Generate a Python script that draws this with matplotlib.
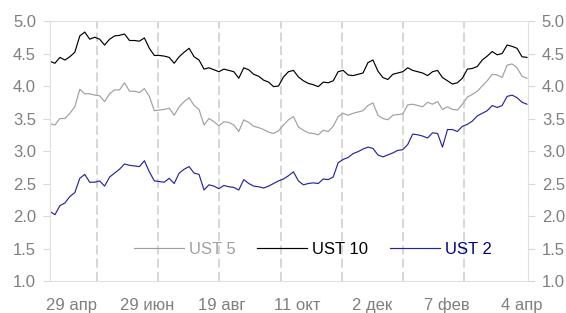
import numpy as np
import matplotlib.pyplot as plt
from matplotlib.ticker import FormatStrFormatter

# Доходности UST (примерно раз в 5 пикселей)
ust10 = [4.38, 4.35, 4.44, 4.40, 4.45, 4.52, 4.77, 4.83, 4.72, 4.75,
         4.72, 4.63, 4.72, 4.77, 4.78, 4.80, 4.70, 4.70, 4.69, 4.74,
         4.58, 4.47, 4.47, 4.46, 4.44, 4.35, 4.45, 4.52, 4.58, 4.45,
         4.40, 4.26, 4.28, 4.25, 4.22, 4.26, 4.24, 4.22, 4.12, 4.28,
         4.25, 4.18, 4.15, 4.09, 4.06, 3.99, 4.00, 4.14, 4.22, 4.24,
         4.14, 4.08, 4.04, 4.02, 3.99, 4.06, 4.05, 4.08, 4.22, 4.24,
         4.17, 4.16, 4.18, 4.20, 4.36, 4.40, 4.23, 4.13, 4.10, 4.18,
         4.20, 4.22, 4.28, 4.24, 4.22, 4.20, 4.16, 4.22, 4.24, 4.13,
         4.08, 4.03, 4.05, 4.12, 4.26, 4.27, 4.30, 4.40, 4.46, 4.53,
         4.48, 4.50, 4.63, 4.61, 4.58, 4.45, 4.44]

ust5 = [3.42, 3.40, 3.50, 3.50, 3.58, 3.68, 3.95, 3.88, 3.88, 3.86,
        3.85, 3.76, 3.88, 3.94, 3.94, 4.05, 3.92, 3.92, 3.90, 3.96,
        3.84, 3.62, 3.63, 3.64, 3.66, 3.55, 3.68, 3.76, 3.82, 3.70,
        3.64, 3.40, 3.50, 3.45, 3.39, 3.45, 3.44, 3.40, 3.30, 3.48,
        3.44, 3.38, 3.36, 3.33, 3.29, 3.27, 3.31, 3.40, 3.48, 3.53,
        3.37, 3.32, 3.28, 3.27, 3.25, 3.32, 3.30, 3.38, 3.53, 3.58,
        3.55, 3.58, 3.60, 3.62, 3.70, 3.74, 3.55, 3.50, 3.48, 3.55,
        3.56, 3.57, 3.71, 3.72, 3.70, 3.68, 3.75, 3.72, 3.76, 3.64,
        3.68, 3.64, 3.63, 3.72, 3.83, 3.87, 3.92, 4.00, 4.08, 4.18,
        4.17, 4.13, 4.32, 4.34, 4.28, 4.15, 4.12]

ust2 = [2.07, 2.02, 2.16, 2.20, 2.30, 2.36, 2.58, 2.64, 2.52, 2.52,
        2.54, 2.46, 2.60, 2.66, 2.72, 2.80, 2.78, 2.77, 2.76, 2.85,
        2.68, 2.54, 2.53, 2.52, 2.58, 2.50, 2.66, 2.72, 2.76, 2.66,
        2.64, 2.40, 2.48, 2.46, 2.42, 2.47, 2.45, 2.44, 2.40, 2.56,
        2.50, 2.46, 2.45, 2.43, 2.46, 2.50, 2.54, 2.57, 2.62, 2.68,
        2.54, 2.48, 2.50, 2.51, 2.50, 2.57, 2.56, 2.60, 2.82, 2.87,
        2.90, 2.96, 2.99, 3.03, 3.06, 3.04, 2.94, 2.91, 2.94, 2.97,
        3.01, 3.02, 3.10, 3.26, 3.25, 3.23, 3.20, 3.28, 3.27, 3.06,
        3.33, 3.33, 3.30, 3.38, 3.41, 3.46, 3.54, 3.58, 3.62, 3.70,
        3.67, 3.70, 3.84, 3.86, 3.82, 3.75, 3.72]

date_labels = ['29 апр', '29 июн', '19 авг', '11 окт', '2 дек', '7 фев', '4 апр']
y_ticks = [1.0, 1.5, 2.0, 2.5, 3.0, 3.5, 4.0, 4.5, 5.0]

plt.rcParams['font.family'] = ['Liberation Sans', 'DejaVu Sans']

x = np.arange(len(ust10))

fig = plt.figure(figsize=(5.66, 3.13), dpi=100)
ax = fig.add_axes([0.0883, 0.1022, 0.8445, 0.8307])

# Линии
ax.plot(x, ust5, color='#a0a0a0', lw=0.85, label='UST 5')
ax.plot(x, ust10, color='#000000', lw=0.85, label='UST 10')
ax.plot(x, ust2, color='#26269c', lw=0.85, label='UST 2')

# Пунктирные вертикальные линии
for xv in np.linspace(9.4, 83.4, 7):
    ax.axvline(xv, color='#cccccc', lw=1.1, dashes=(6, 2.7), zorder=0)

ax.set_xlim(0, 96.2)
ax.set_ylim(1, 5)

ax.set_xticks(np.linspace(4.4, 95, 7))
ax.set_xticklabels(date_labels)
ax.set_yticks(y_ticks)
ax.yaxis.set_major_formatter(FormatStrFormatter('%.1f'))

ax.tick_params(axis='x', length=0, pad=12, labelsize=12, labelcolor='#7f7f7f')
ax.tick_params(axis='y', left=True, right=True, labelleft=True, labelright=True,
               length=5, width=0.8, color='#d9d9d9', pad=5,
               labelsize=12, labelcolor='#7f7f7f')

for s in ax.spines.values():
    s.set_color('#e0e0e0')
    s.set_linewidth(0.8)

leg = ax.legend(loc='center', bbox_to_anchor=(0.55, 0.12), ncol=3, frameon=False,
                fontsize=12, handlelength=3.0, handletextpad=0.3, columnspacing=1.3,
                labelcolor=['#a0a0a0', '#000000', '#000080'])

fig.savefig('out.png', dpi=100)
